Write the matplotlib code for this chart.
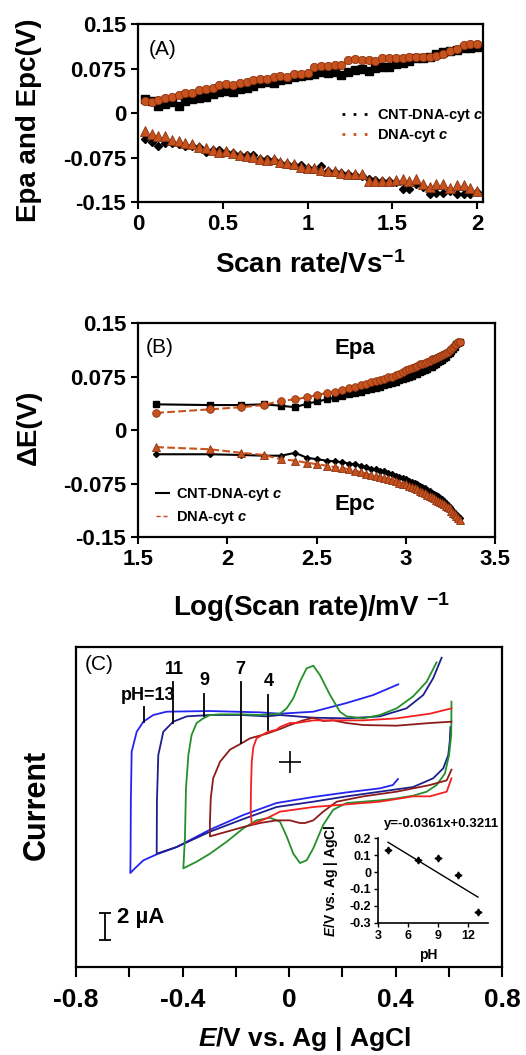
import numpy as np
import matplotlib
matplotlib.use('Agg')
import matplotlib.pyplot as plt
from matplotlib.lines import Line2D

plt.rcParams['font.family'] = ['Liberation Sans', 'DejaVu Sans']
plt.rcParams['font.weight'] = 'bold'
plt.rcParams['axes.labelweight'] = 'bold'
plt.rcParams['axes.unicode_minus'] = False
plt.rcParams['mathtext.fontset'] = 'custom'
plt.rcParams['mathtext.rm'] = 'Liberation Sans:bold'
plt.rcParams['mathtext.it'] = 'Liberation Sans:bold:italic'
plt.rcParams['mathtext.bf'] = 'Liberation Sans:bold'

# ---- (A) peak potentials vs scan rate (V/s)
scan_rate = [0.04, 0.08, 0.12, 0.16, 0.20, 0.24, 0.28, 0.32, 0.36, 0.40,
             0.44, 0.48, 0.52, 0.56, 0.60, 0.64, 0.68, 0.72, 0.76, 0.80,
             0.84, 0.88, 0.92, 0.96, 1.00, 1.04, 1.08, 1.12, 1.16, 1.20,
             1.24, 1.28, 1.32, 1.36, 1.40, 1.44, 1.48, 1.52, 1.56, 1.60,
             1.64, 1.68, 1.72, 1.76, 1.80, 1.84, 1.88, 1.92, 1.96, 2.00]
cnt_epa = [0.024, 0.020, 0.012, 0.016, 0.018, 0.012, 0.020, 0.024, 0.025, 0.027,
           0.032, 0.036, 0.037, 0.036, 0.040, 0.043, 0.045, 0.050, 0.052, 0.050,
           0.055, 0.058, 0.060, 0.062, 0.064, 0.066, 0.070, 0.067, 0.070, 0.064,
           0.070, 0.072, 0.074, 0.071, 0.076, 0.078, 0.078, 0.083, 0.085, 0.087,
           0.092, 0.093, 0.094, 0.100, 0.103, 0.104, 0.106, 0.110, 0.109, 0.111]
dna_epa = [0.020, 0.019, 0.022, 0.025, 0.027, 0.030, 0.033, 0.034, 0.038, 0.040,
           0.043, 0.047, 0.049, 0.048, 0.050, 0.052, 0.055, 0.057, 0.058, 0.060,
           0.062, 0.060, 0.065, 0.066, 0.067, 0.078, 0.079, 0.080, 0.081, 0.081,
           0.090, 0.091, 0.090, 0.089, 0.088, 0.092, 0.093, 0.092, 0.093, 0.095,
           0.094, 0.095, 0.094, 0.096, 0.100, 0.104, 0.108, 0.115, 0.117, 0.117]
cnt_epc = [-0.044, -0.049, -0.055, -0.051, -0.050, -0.053, -0.055, -0.056, -0.058, -0.065,
           -0.062, -0.062, -0.066, -0.068, -0.070, -0.071, -0.071, -0.077, -0.078, -0.079,
           -0.084, -0.086, -0.087, -0.088, -0.093, -0.095, -0.089, -0.097, -0.099, -0.101,
           -0.103, -0.104, -0.106, -0.112, -0.113, -0.114, -0.114, -0.117, -0.128, -0.128,
           -0.120, -0.125, -0.136, -0.134, -0.135, -0.132, -0.136, -0.137, -0.137, -0.133]
dna_epc = [-0.030, -0.036, -0.038, -0.039, -0.045, -0.047, -0.050, -0.052, -0.057, -0.059,
           -0.062, -0.066, -0.064, -0.068, -0.070, -0.072, -0.074, -0.078, -0.079, -0.077,
           -0.083, -0.084, -0.086, -0.091, -0.093, -0.093, -0.096, -0.097, -0.097, -0.101,
           -0.102, -0.102, -0.103, -0.115, -0.115, -0.115, -0.115, -0.113, -0.112, -0.114,
           -0.112, -0.119, -0.124, -0.119, -0.120, -0.126, -0.122, -0.122, -0.127, -0.132]

# ---- (B) peak potentials vs log(scan rate / mV s-1)
b_cnt_epa = [0.036, 0.035, 0.035, 0.036, 0.034, 0.032, 0.037, 0.040, 0.043, 0.045,
             0.047, 0.050, 0.052, 0.054, 0.056, 0.058, 0.059, 0.061, 0.063, 0.065,
             0.066, 0.068, 0.070, 0.071, 0.073, 0.075, 0.076, 0.078, 0.079, 0.081,
             0.083, 0.084, 0.086, 0.088, 0.089, 0.091, 0.093, 0.095, 0.097, 0.098,
             0.101, 0.103, 0.106, 0.108, 0.111, 0.114, 0.117, 0.120, 0.122, 0.124]
b_dna_epa = [0.024, 0.029, 0.032, 0.035, 0.041, 0.043, 0.046, 0.049, 0.052, 0.054,
             0.056, 0.059, 0.061, 0.063, 0.065, 0.068, 0.069, 0.070, 0.072, 0.074,
             0.075, 0.077, 0.079, 0.082, 0.084, 0.085, 0.087, 0.088, 0.090, 0.092,
             0.093, 0.094, 0.096, 0.097, 0.099, 0.100, 0.101, 0.103, 0.104, 0.105,
             0.107, 0.108, 0.110, 0.112, 0.114, 0.117, 0.119, 0.121, 0.123, 0.124]
b_cnt_epc = [-0.034, -0.034, -0.035, -0.036, -0.036, -0.032, -0.039, -0.041, -0.043, -0.044,
             -0.045, -0.047, -0.048, -0.050, -0.052, -0.054, -0.055, -0.057, -0.058, -0.060,
             -0.062, -0.064, -0.066, -0.067, -0.069, -0.071, -0.073, -0.074, -0.076, -0.078,
             -0.080, -0.082, -0.084, -0.086, -0.088, -0.090, -0.091, -0.093, -0.095, -0.097,
             -0.100, -0.102, -0.105, -0.108, -0.111, -0.114, -0.117, -0.119, -0.121, -0.123]
b_dna_epc = [-0.024, -0.027, -0.032, -0.035, -0.041, -0.043, -0.046, -0.048, -0.050, -0.052,
             -0.053, -0.055, -0.057, -0.059, -0.061, -0.063, -0.064, -0.066, -0.067, -0.069,
             -0.070, -0.072, -0.074, -0.075, -0.076, -0.078, -0.080, -0.082, -0.083, -0.085,
             -0.087, -0.089, -0.091, -0.093, -0.094, -0.096, -0.098, -0.099, -0.101, -0.102,
             -0.104, -0.106, -0.108, -0.110, -0.113, -0.116, -0.118, -0.121, -0.123, -0.126]

# ---- (C) cyclic voltammograms, E (V) and current (uA, arbitrary offset)
cv_labels = ['13', '11', '9', '7', '4']
cv_colors = ['#2424f2', '#1e1e8c', '#24902a', '#8c1c1c', '#f42020']
cv_e = [
    [0.410, 0.316, 0.216, 0.091, -0.034, -0.109, -0.297, -0.460, -0.510, -0.547, -0.572, -0.591,
     -0.594, -0.595, -0.596, -0.579, -0.547, -0.497, -0.422, -0.297, -0.172, -0.047, 0.090,
     0.217, 0.341, 0.390, 0.409],
    [0.573, 0.541, 0.504, 0.441, 0.341, 0.216, 0.091, -0.034, -0.084, -0.173, -0.297, -0.384,
     -0.435, -0.472, -0.491, -0.496, -0.497, -0.422, -0.297, -0.172, -0.047, 0.091, 0.216,
     0.341, 0.466, 0.541, 0.579, 0.598, 0.604, 0.606],
    [0.554, 0.517, 0.466, 0.404, 0.341, 0.279, 0.216, 0.191, 0.154, 0.116, 0.091, 0.066, 0.041,
     0.016, -0.009, -0.034, -0.109, -0.172, -0.259, -0.297, -0.322, -0.347, -0.366, -0.378,
     -0.387, -0.391, -0.397, -0.347, -0.297, -0.234, -0.172, -0.122, -0.072, -0.034, -0.009,
     0.016, 0.041, 0.066, 0.091, 0.128, 0.166, 0.216, 0.279, 0.341, 0.404, 0.466, 0.517,
     0.554, 0.585, 0.601, 0.609, 0.610],
    [0.610, 0.529, 0.404, 0.279, 0.216, 0.191, 0.166, 0.128, 0.091, 0.053, 0.003, -0.034,
     -0.084, -0.147, -0.172, -0.222, -0.259, -0.285, -0.294, -0.297, -0.297, -0.234, -0.172,
     -0.109, -0.047, 0.003, 0.041, 0.060, 0.091, 0.128, 0.179, 0.279, 0.404, 0.529, 0.592,
     0.610],
    [0.610, 0.529, 0.404, 0.279, 0.154, 0.091, 0.028, 0.003, -0.034, -0.047, -0.084, -0.122,
     -0.134, -0.140, -0.143, -0.144, -0.140, -0.084, -0.034, 0.091, 0.216, 0.341, 0.466,
     0.529, 0.592, 0.610],
]
cv_i = [
    [21.2, 20.4, 19.8, 19.15, 19.0, 19.1, 19.2, 19.15, 18.9, 18.4, 17.65, 16.15,
     12.5, 8.8, 7.05, 7.4, 8.0, 8.45, 9.0, 10.3, 11.4, 12.3, 12.75,
     13.1, 13.4, 13.65, 14.1],
    [23.2, 21.65, 20.4, 19.4, 18.8, 18.65, 18.7, 18.9, 18.8, 18.9, 18.9, 18.8,
     18.4, 17.65, 15.9, 12.5, 8.5, 9.0, 10.15, 11.1, 12.0, 12.4, 12.8,
     13.15, 13.5, 14.15, 14.9, 15.9, 17.0, 18.0],
    [22.85, 21.4, 20.3, 19.4, 18.9, 18.65, 18.8, 19.15, 20.4, 21.9, 22.6, 22.4, 21.4,
     20.15, 19.4, 19.0, 18.9, 18.95, 18.95, 18.9, 18.65, 18.3, 17.4, 15.9,
     13.4, 9.65, 7.4, 7.9, 8.5, 9.4, 10.4, 11.0, 11.2, 10.9, 9.8,
     8.5, 7.8, 8.0, 8.9, 10.65, 11.8, 12.3, 12.4, 12.5, 12.65, 12.85, 13.15,
     13.65, 14.5, 15.9, 17.4, 19.9],
    [18.4, 18.3, 18.1, 18.15, 18.3, 18.4, 18.5, 18.45, 18.7, 18.5, 18.15, 17.85,
     17.5, 17.15, 16.85, 16.3, 15.4, 14.15, 12.65, 10.9, 9.8, 10.15, 10.5,
     10.8, 11.0, 11.0, 10.8, 10.8, 11.0, 11.65, 12.4, 12.8, 13.15, 13.65, 14.0,
     14.8],
    [19.4, 19.0, 18.65, 18.5, 18.5, 18.5, 18.3, 18.3, 18.0, 17.8, 17.6, 17.15,
     16.5, 15.4, 13.4, 11.65, 10.7, 11.15, 11.65, 12.0, 12.2, 12.4, 12.8,
     12.8, 13.15, 14.15],
]
# pH label: text position, line x, line bottom / top
ph_text_xy = [(-0.53, 20.4), (-0.43, 22.3), (-0.318, 21.5), (-0.182, 22.3), (-0.078, 21.4)]
ph_line_x = [-0.545, -0.435, -0.318, -0.182, -0.078]
ph_line_lo = [18.4, 18.3, 18.8, 16.8, 17.8]
ph_line_hi = [19.5, 21.4, 20.5, 21.4, 20.4]

# inset: formal potential vs pH
inset_ph = [4, 7, 9, 11, 13]
inset_e = [0.13, 0.072, 0.085, -0.017, -0.237]
fit_slope, fit_icpt = -0.0361, 0.3211

orange = '#c8521e'
orange_edge = '#8a3412'

fig = plt.figure(figsize=(5.26, 10.55), dpi=100)
axA = fig.add_axes([0.2624, 0.8085, 0.656, 0.1687])
axB = fig.add_axes([0.2624, 0.491, 0.6787, 0.2028])
axC = fig.add_axes([0.1445, 0.0834, 0.81, 0.3033])
axI = fig.add_axes([0.7186, 0.1254, 0.209, 0.08])

for ax in (axA, axB, axC):
    for s in ax.spines.values():
        s.set_linewidth(1.6)
    ax.tick_params(direction='out', width=1.5, length=5, labelsize=16)

# panel A
axA.plot(scan_rate, cnt_epa, 's', color='black', ms=5.5)
axA.plot(scan_rate, dna_epa, 'o', color=orange, mec=orange_edge, mew=0.6, ms=6)
axA.plot(scan_rate, cnt_epc, 'D', color='black', ms=4)
axA.plot(scan_rate, dna_epc, '^', color=orange, mec=orange_edge, mew=0.6, ms=6.5)
axA.set_xlim(0, 2.035)
axA.set_ylim(-0.15, 0.15)
axA.set_xticks([0, 0.5, 1, 1.5, 2])
axA.set_xticklabels(['0', '0.5', '1', '1.5', '2'])
axA.set_yticks([-0.15, -0.075, 0, 0.075, 0.15])
axA.set_yticklabels(['-0.15', '-0.075', '0', '0.075', '0.15'])
axA.set_xlabel('Scan rate/Vs$^{-1}$', fontsize=20)
axA.set_ylabel('Epa and Epc(V)', fontsize=20)
axA.xaxis.set_label_coords(0.5, -0.27)
axA.yaxis.set_label_coords(-0.279, 0.46)
axA.text(0.03, 0.855, '(A)', transform=axA.transAxes, fontsize=15,
         fontweight='normal', va='center')
hA = [Line2D([], [], color='black', ls=(0, (1, 3)), lw=2),
      Line2D([], [], color=orange, ls=(0, (1, 3)), lw=2)]
axA.legend(hA, ['CNT-DNA-cyt $\\mathit{c}$', 'DNA-cyt $\\mathit{c}$'], loc='center left',
           bbox_to_anchor=(0.57, 0.43), frameon=False, fontsize=10.5,
           handlelength=1.8, handletextpad=0.6, labelspacing=0.2, borderpad=0)

# panel B
log_rate = np.log10(np.array(scan_rate) * 1000)
axB.plot(log_rate, b_cnt_epa, '-s', color='black', ms=5, lw=1.5)
axB.plot(log_rate, b_dna_epa, '--o', color=orange, mec=orange_edge, mew=0.6, ms=5.5, lw=1.5)
axB.plot(log_rate, b_cnt_epc, '-D', color='black', ms=3, lw=1.5)
axB.plot(log_rate, b_dna_epc, '--^', color=orange, mec=orange_edge, mew=0.6, ms=6, lw=1.5)
axB.set_xlim(1.5, 3.5)
axB.set_ylim(-0.15, 0.15)
axB.set_xticks([1.5, 2, 2.5, 3, 3.5])
axB.set_xticklabels(['1.5', '2', '2.5', '3', '3.5'])
axB.set_yticks([-0.15, -0.075, 0, 0.075, 0.15])
axB.set_yticklabels(['-0.15', '-0.075', '0', '0.075', '0.15'])
axB.set_xlabel('Log(Scan rate)/mV $^{-1}$', fontsize=20)
axB.set_ylabel('\u0394E(V)', fontsize=20)
axB.xaxis.set_label_coords(0.487, -0.25)
axB.yaxis.set_label_coords(-0.269, 0.514)
axB.text(0.022, 0.885, '(B)', transform=axB.transAxes, fontsize=15,
         fontweight='normal', va='center')
axB.text(2.716, 0.1145, 'Epa', fontsize=16, ha='center', va='center')
axB.text(2.716, -0.105, 'Epc', fontsize=16, ha='center', va='center')
hB = [Line2D([], [], color='black', lw=1.5),
      Line2D([], [], color=orange, ls=(0, (3, 2)), lw=1)]
axB.legend(hB, ['CNT-DNA-cyt $\\mathit{c}$', 'DNA-cyt $\\mathit{c}$'], loc='center left',
           bbox_to_anchor=(0.03, 0.145), frameon=False, fontsize=10.5,
           handlelength=0.9, handletextpad=0.5, labelspacing=0.45, borderpad=0)

# panel C
for e, i, c in zip(cv_e, cv_i, cv_colors):
    axC.plot(e, i, color=c, lw=1.3)
for lab, (tx, ty), lx, lo, hi in zip(cv_labels, ph_text_xy, ph_line_x, ph_line_lo, ph_line_hi):
    axC.plot([lx, lx], [lo, hi], color='black', lw=1.3)
    txt = 'pH=' + lab if lab == '13' else lab
    axC.text(tx, ty, txt, fontsize=13, ha='center', va='center')
axC.plot([0.003], [15.4], marker='+', color='black', ms=16, mew=1.2)
# 2 uA scale bar
axC.errorbar([-0.691], [3.05], yerr=[1.0], color='black', capsize=4, lw=1.3, capthick=1.3)
axC.text(-0.645, 3.7, '2 \u00b5A', fontsize=16, va='center')
axC.text(0.02, 0.944, '(C)', transform=axC.transAxes, fontsize=15,
         fontweight='normal', va='center')
axC.set_xlim(-0.8, 0.8)
axC.set_ylim(0, 24)
axC.set_xticks([-0.8, -0.6, -0.4, -0.2, 0, 0.2, 0.4, 0.6, 0.8])
axC.set_xticklabels(['-0.8', '', '-0.4', '', '0', '', '0.4', '', '0.8'], fontsize=19)
axC.set_yticks([])
axC.tick_params(axis='x', length=7, pad=8)
axC.set_xlabel('$\\mathit{E}$/V vs. Ag | AgCl', fontsize=19)
axC.set_ylabel('Current', fontsize=22)
axC.xaxis.set_label_coords(0.536, -0.18)
axC.yaxis.set_label_coords(-0.056, 0.506)

# inset
fit_x = np.array([inset_ph[0], inset_ph[-1]])
axI.plot(fit_x, fit_slope * fit_x + fit_icpt, color='black', lw=1)
axI.plot(inset_ph, inset_e, linestyle='none', marker=(4, 1, 0), color='black', ms=5)
axI.set_xlim(3, 14)
axI.set_ylim(-0.3, 0.2)
axI.set_xticks([3, 6, 9, 12])
axI.set_yticks([-0.3, -0.2, -0.1, 0, 0.1, 0.2])
axI.set_yticklabels(['-0.3', '-0.2', '-0.1', '0', '0.1', '0.2'])
axI.spines['top'].set_visible(False)
axI.spines['right'].set_visible(False)
for s in ('left', 'bottom'):
    axI.spines[s].set_linewidth(1.2)
axI.tick_params(direction='out', width=1, length=3, labelsize=9, pad=2)
axI.patch.set_alpha(0)
axI.set_xlabel('pH', fontsize=10)
axI.set_ylabel('$\\mathit{E}$/V vs. Ag | AgCl', fontsize=10)
axI.xaxis.set_label_coords(0.455, -0.3)
axI.yaxis.set_label_coords(-0.345, 0.5)
axI.text(0.58, 1.17, 'y=-0.0361x+0.3211', transform=axI.transAxes, fontsize=9.5,
         ha='center', va='center')

fig.savefig('out.png', dpi=100)
